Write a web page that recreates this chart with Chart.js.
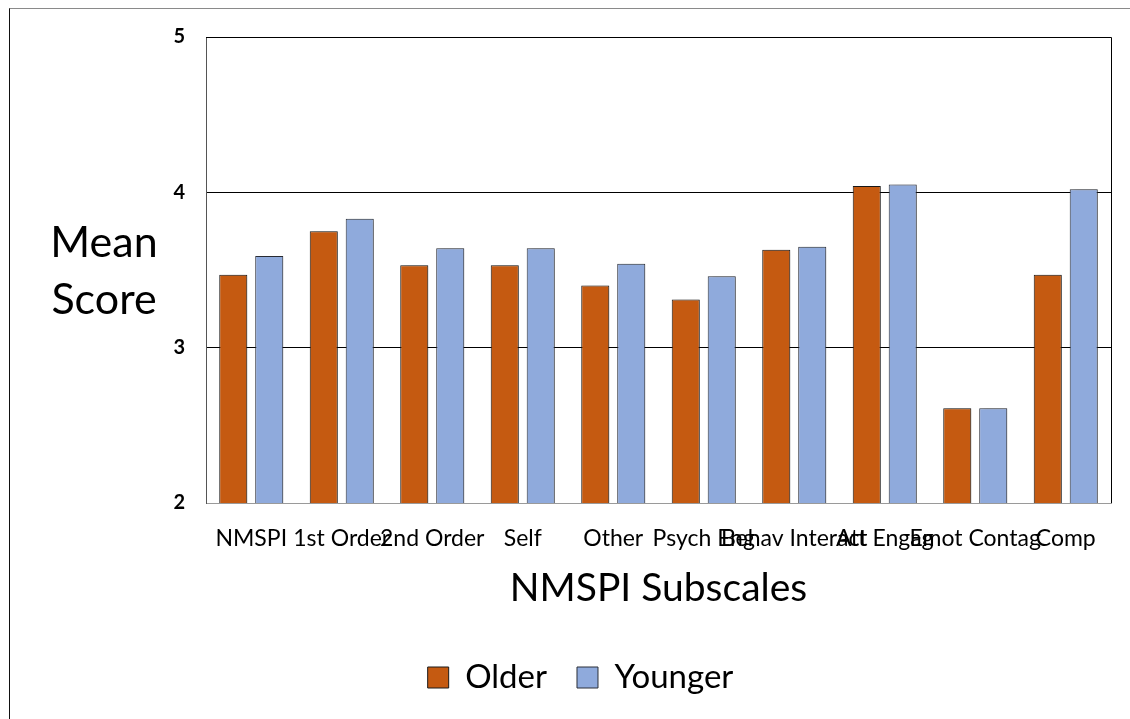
<!DOCTYPE html>
<html>
<head>
<meta charset="utf-8">
<script src="https://cdn.jsdelivr.net/npm/chart.js@4.4.1/dist/chart.umd.min.js"></script>
<style>
  html, body { margin: 0; padding: 0; background: #fff; }
  #wrap { position: relative; width: 1130px; height: 719px; }
  #frame {
    position: absolute; left: 9px; top: 8px; right: 0; bottom: 0;
    border-top: 1px solid #8a8a8a; border-left: 1px solid #111;
    pointer-events: none;
  }
  canvas { position: absolute; left: 0; top: 0; }
</style>
</head>
<body>
<div id="wrap">
  <canvas id="chart" width="1130" height="719"></canvas>
  <div id="frame"></div>
</div>
<script>
const CATEGORIES = ['NMSPI', '1st Order', '2nd Order', 'Self', 'Other', 'Psych Eng',
  'Behav Interact', 'Att Engag', 'Emot Contag', 'Comp'];
const OLDER = [3.47, 3.75, 3.53, 3.53, 3.40, 3.31, 3.63, 4.04, 2.61, 3.47];
const YOUNGER = [3.59, 3.83, 3.64, 3.64, 3.54, 3.46, 3.65, 4.05, 2.61, 4.02];
const Y_TICKS = [2, 3, 4, 5];

const FONT = 'Lato, "Open Sans", sans-serif';

// soft drop shadow behind the bars, like the office chart
const barShadow = {
  id: 'barShadow',
  beforeDatasetsDraw(chart) {
    const ctx = chart.ctx;
    ctx.save();
    ctx.shadowColor = 'rgba(0,0,0,0.22)';
    ctx.shadowBlur = 5;
    ctx.shadowOffsetX = 3;
    ctx.shadowOffsetY = 0;
  },
  afterDatasetsDraw(chart) {
    chart.ctx.restore();
  },
};

// top + right frame of plot area, and the horizontal "Mean Score" label
const plotFrame = {
  id: 'plotFrame',
  afterDraw(chart) {
    const { ctx, chartArea: a } = chart;
    ctx.save();
    ctx.strokeStyle = '#000';
    ctx.lineWidth = 1;
    ctx.beginPath();
    ctx.moveTo(a.left, a.top + 0.5);
    ctx.lineTo(a.right + 0.5, a.top + 0.5);
    ctx.lineTo(a.right + 0.5, a.bottom);
    ctx.stroke();

    ctx.fillStyle = '#000';
    ctx.font = '43px ' + FONT;
    ctx.textAlign = 'center';
    ctx.textBaseline = 'middle';
    ctx.fillText('Mean', 104, 243);
    ctx.fillText('Score', 104, 300);
    ctx.restore();
  },
};

new Chart(document.getElementById('chart'), {
  type: 'bar',
  data: {
    labels: CATEGORIES,
    datasets: [
      {
        label: 'Older',
        data: OLDER,
        backgroundColor: '#C55A11',
        borderColor: '#1a1a1a',
        borderWidth: 1,
      },
      {
        label: 'Younger',
        data: YOUNGER,
        backgroundColor: '#8FAADC',
        borderColor: '#2b2f38',
        borderWidth: 1,
      },
    ],
  },
  options: {
    responsive: false,
    animation: false,
    categoryPercentage: 0.795,
    barPercentage: 0.78,
    layout: { padding: { left: 50, right: 19, top: 37, bottom: 15 } },
    plugins: {
      tooltip: { enabled: false },
      legend: {
        position: 'bottom',
        labels: {
          color: '#000',
          font: { family: FONT, size: 33 },
          boxWidth: 21,
          boxHeight: 21,
          padding: 30,
        },
      },
    },
    scales: {
      x: {
        grid: { display: false, drawTicks: false },
        border: { display: true, color: '#9a9a9a', width: 1 },
        ticks: {
          autoSkip: false,
          maxRotation: 0,
          minRotation: 0,
          padding: 22,
          color: '#000',
          font: { family: FONT, size: 23 },
        },
        title: {
          display: true,
          text: 'NMSPI Subscales',
          color: '#000',
          font: { family: FONT, size: 39 },
          padding: { top: 0, bottom: 19 },
        },
        afterFit(scale) { scale.height = 128; },
      },
      y: {
        min: 2,
        max: 5,
        afterBuildTicks(scale) { scale.ticks = Y_TICKS.map(v => ({ value: v })); },
        grid: { color: '#000', drawTicks: false },
        border: { display: true, color: '#555', width: 1 },
        ticks: {
          padding: 21,
          color: '#000',
          font: { family: FONT, size: 20, weight: 'bold' },
        },
        afterFit(scale) { scale.width = 156; },
      },
    },
  },
  plugins: [barShadow, plotFrame],
});
</script>
</body>
</html>
